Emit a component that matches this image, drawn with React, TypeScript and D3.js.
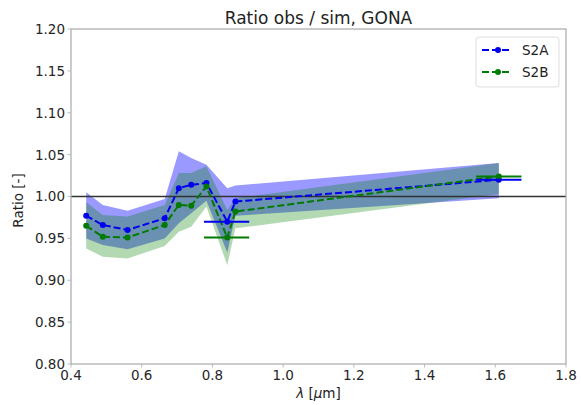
import React from "react";
import * as d3 from "d3";

// Sentinel-2 band centres [µm]
const wavelengths = [0.443, 0.49, 0.56, 0.665, 0.705, 0.74, 0.783, 0.842, 0.865, 1.61];

// S2A ratio and uncertainty envelope
const s2a = [0.977, 0.966, 0.960, 0.974, 1.010, 1.014, 1.016, 0.970, 0.994, 1.020];
const s2aUpper = [1.005, 0.990, 0.983, 0.997, 1.054, 1.046, 1.038, 1.010, 1.013, 1.040];
const s2aLower = [0.950, 0.942, 0.937, 0.950, 0.968, 0.980, 0.995, 0.933, 0.977, 0.998];

// S2B ratio and uncertainty envelope
const s2b = [0.965, 0.952, 0.951, 0.966, 0.990, 0.989, 1.012, 0.951, 0.982, 1.024];
const s2bUpper = [0.993, 0.978, 0.976, 0.990, 1.028, 1.028, 1.036, 0.984, 0.998, 1.040];
const s2bLower = [0.938, 0.928, 0.926, 0.941, 0.958, 0.964, 0.988, 0.918, 0.962, 1.003];

// broad bands drawn with their spectral width (B8, B11)
const broadBands = [
  { lo: 0.776, hi: 0.904, a: 0.970, b: 0.951 },
  { lo: 1.546, hi: 1.674, a: 1.020, b: 1.024 },
];

const xTicks = [0.4, 0.6, 0.8, 1.0, 1.2, 1.4, 1.6, 1.8];
const yTicks = [0.8, 0.85, 0.9, 0.95, 1.0, 1.05, 1.1, 1.15, 1.2];

const series = [
  { name: "S2A", values: s2a, upper: s2aUpper, lower: s2aLower, color: "#0000ee", fill: "#0000ff", alpha: 0.4 },
  { name: "S2B", values: s2b, upper: s2bUpper, lower: s2bLower, color: "#007a00", fill: "#008000", alpha: 0.3 },
];

const width = 581;
const height = 405;
const margin = { top: 29, right: 15, bottom: 41, left: 71 };
const innerW = width - margin.left - margin.right;
const innerH = height - margin.top - margin.bottom;
const font = "DejaVu Sans, sans-serif";

export default function App() {
  const x = d3.scaleLinear().domain([0.4, 1.8]).range([0, innerW]);
  const y = d3.scaleLinear().domain([0.8, 1.2]).range([innerH, 0]);

  const line = d3
    .line<number>()
    .x((_, i) => x(wavelengths[i]))
    .y((d) => y(d));

  const band = (s: (typeof series)[number]) =>
    d3
      .area<number>()
      .x((_, i) => x(wavelengths[i]))
      .y0((_, i) => y(s.lower[i]))
      .y1((_, i) => y(s.upper[i]))(s.values);

  return (
    <svg
      width={width}
      height={height}
      style={{ position: "absolute", left: 0, top: 0, background: "#fff" }}
      fontFamily={font}
    >
      <text x={margin.left + innerW / 2} y={24} textAnchor="middle" fontSize={17} fill="#222">
        Ratio obs / sim, GONA
      </text>

      <g transform={`translate(${margin.left},${margin.top})`}>
        {/* uncertainty bands */}
        {series.map((s) => (
          <path key={`band-${s.name}`} d={band(s) || ""} fill={s.fill} fillOpacity={s.alpha} stroke="none" />
        ))}

        {/* reference line at 1 */}
        <line x1={0} x2={innerW} y1={y(1)} y2={y(1)} stroke="#333" strokeWidth={1.5} />

        {/* dashed lines with markers */}
        {series.map((s) => (
          <g key={`line-${s.name}`}>
            <path d={line(s.values) || ""} fill="none" stroke={s.color} strokeWidth={2} strokeDasharray="7,3" />
            {s.values.map((v, i) => (
              <circle key={i} cx={x(wavelengths[i])} cy={y(v)} r={3} fill={s.color} />
            ))}
          </g>
        ))}

        {/* band width bars */}
        {broadBands.map((b, i) => (
          <g key={`bar-${i}`}>
            <line x1={x(b.lo)} x2={x(b.hi)} y1={y(b.a)} y2={y(b.a)} stroke={series[0].color} strokeWidth={2} />
            <line x1={x(b.lo)} x2={x(b.hi)} y1={y(b.b)} y2={y(b.b)} stroke={series[1].color} strokeWidth={2} />
          </g>
        ))}

        {/* frame */}
        <rect x={0} y={0} width={innerW} height={innerH} fill="none" stroke="#a8a8a8" strokeWidth={1.2} />

        {/* x axis */}
        {xTicks.map((t) => (
          <g key={`x-${t}`} transform={`translate(${x(t)},${innerH})`}>
            <line y2={3.5} stroke="#bbb" />
            <text y={16} textAnchor="middle" fontSize={13.5} fill="#262626">
              {t.toFixed(1)}
            </text>
          </g>
        ))}

        {/* y axis */}
        {yTicks.map((t) => (
          <g key={`y-${t}`} transform={`translate(0,${y(t)})`}>
            <line x2={-3.5} stroke="#bbb" />
            <text x={-6} dy="0.36em" textAnchor="end" fontSize={13.5} fill="#262626">
              {t.toFixed(2)}
            </text>
          </g>
        ))}

        {/* legend */}
        <g transform={`translate(${innerW - 90},8)`}>
          <rect width={83} height={50} rx={3} fill="#fff" fillOpacity={0.85} stroke="#ddd" />
          {series.map((s, i) => (
            <g key={`leg-${s.name}`} transform={`translate(6,${13 + i * 22})`}>
              <line x1={0} x2={30} stroke={s.color} strokeWidth={2} strokeDasharray="7,3" />
              <circle cx={16} cy={0} r={3} fill={s.color} />
              <text x={40} dy="0.36em" fontSize={13.5} fill="#222">
                {s.name}
              </text>
            </g>
          ))}
        </g>
      </g>

      <text
        transform={`translate(23,${margin.top + innerH / 2 + 4}) rotate(-90)`}
        textAnchor="middle"
        fontSize={13.5}
        fill="#222"
      >
        Ratio [-]
      </text>
      <text x={margin.left + innerW / 2} y={398} textAnchor="middle" fontSize={13.5} fill="#222">
        <tspan fontStyle="italic">λ</tspan> [<tspan fontStyle="italic">μ</tspan>m]
      </text>
    </svg>
  );
}
